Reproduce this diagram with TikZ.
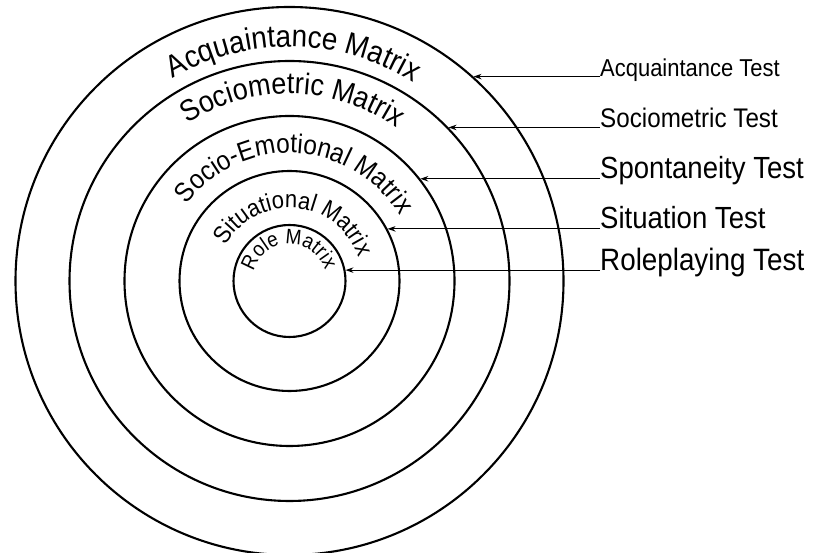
\documentclass[tikz,border=0pt]{standalone}
\usepackage{fontspec}
\setmainfont[FakeStretch=0.9]{Liberation Sans}
\usetikzlibrary{decorations.text,arrows.meta}
\begin{document}
\begin{tikzpicture}[x=1pt,y=1pt,
  ring/.style={draw, circle, inner sep=0pt, line width=2.1pt},
  testlabel/.style={anchor=base west, inner sep=0pt},
  pointer/.style={-{Stealth[length=8pt,width=5.5pt]}, line width=1.2pt},
  arctext/.style={decorate, decoration={text along path, text align=center, text={#1}}}
]
\useasboundingbox (0,0) rectangle (818,553);
\coordinate (C) at (289.5,272);
\coordinate (lx) at (600,0);
% concentric rings
\node[ring, minimum size=548pt] (acq) at (C) {};
\node[ring, minimum size=440pt] (soc) at (C) {};
\node[ring, minimum size=330pt] (emo) at (C) {};
\node[ring, minimum size=220pt] (sit) at (C) {};
\node[ring, minimum size=112pt] (role) at (C) {};
% ring texts
\path[arctext={|\fontsize{31}{33}\selectfont|Acquaintance Matrix}, shift={(289.5,272)}]
  (179:234pt) arc[start angle=179, end angle=-1, radius=234pt];
\path[arctext={|\fontsize{30}{32}\selectfont|Sociometric Matrix}, shift={(289.5,272)}]
  (179:187pt) arc[start angle=179, end angle=-1, radius=187pt];
\path[arctext={|\fontsize{27.2}{29}\selectfont|Socio-Emotional Matrix}, shift={(289.5,272)}]
  (177:128pt) arc[start angle=177, end angle=-3, radius=128pt];
\path[arctext={|\fontsize{24.4}{26}\selectfont|Situational Matrix}, shift={(289.5,272)}]
  (175:73pt) arc[start angle=175, end angle=-5, radius=73pt];
\path[arctext={|\fontsize{21}{23}\selectfont|Role Matrix}, shift={(289.5,272)}]
  (181:37pt) arc[start angle=181, end angle=1, radius=37pt];
% test labels
\node[testlabel, font=\fontsize{24.4}{26}\selectfont] (tacq) at (acq.48 -| lx) {Acquaintance Test};
\node[testlabel, font=\fontsize{26.9}{29}\selectfont] (tsoc) at (soc.44 -| lx) {Sociometric Test};
\node[testlabel, font=\fontsize{30.6}{32}\selectfont] (temo) at (emo.38 -| lx) {Spontaneity Test};
\node[testlabel, font=\fontsize{30.6}{32}\selectfont] (tsit) at (sit.28 -| lx) {Situation Test};
\node[testlabel, font=\fontsize{30.9}{32}\selectfont] (trole) at (role.11 -| lx) {Roleplaying Test};
% pointers
\draw[pointer] (tacq.base west) -- (acq.48);
\draw[pointer] (tsoc.base west) -- (soc.44);
\draw[pointer] (temo.base west) -- (emo.38);
\draw[pointer] (tsit.base west) -- (sit.28);
\draw[pointer] (trole.base west) -- (role.11);
\end{tikzpicture}
\end{document}
